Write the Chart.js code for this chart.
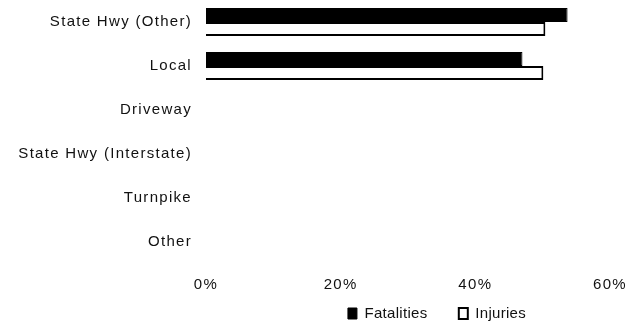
<!DOCTYPE html>
<html>
<head>
<meta charset="utf-8">
<script src="https://cdn.jsdelivr.net/npm/chart.js@4/dist/chart.umd.min.js"></script>
<style>
html,body{margin:0;padding:0;background:#fff;}
#wrap{position:relative;width:631px;height:326px;}
</style>
</head>
<body>
<div id="wrap"><canvas id="c"></canvas></div>
<script>
const categories = ["State Hwy (Other)", "Local", "Driveway", "State Hwy (Interstate)", "Turnpike", "Other"];
const fatalities = [53.7, 47.0, 0, 0, 0, 0];
const injuries = [50.4, 50.1, 0, 0, 0, 0];
const xTicks = [0, 20, 40, 60];

const FONT = "'Liberation Sans', Arial, sans-serif";
const AXIS_SPACING = '1.3px';
const LEGEND_SPACING = '0.3px';

const spacingPlugin = {
  id: 'spacing',
  afterInit(chart) {
    const lg = chart.legend;
    const origFit = lg.fit.bind(lg);
    lg.fit = function () {
      const ctx = chart.ctx; const prev = ctx.letterSpacing;
      ctx.letterSpacing = LEGEND_SPACING; origFit(); ctx.letterSpacing = prev;
    };
    lg._layers = function () {
      return [{ z: 0, draw(area) {
        const ctx = chart.ctx; const prev = ctx.letterSpacing;
        ctx.letterSpacing = LEGEND_SPACING; lg.draw(area); ctx.letterSpacing = prev;
      } }];
    };
  },
  beforeLayout(chart) { chart.ctx.letterSpacing = AXIS_SPACING; },
  beforeDraw(chart) { chart.ctx.letterSpacing = AXIS_SPACING; },
  afterLayout(chart) {
    const lg = chart.legend;
    lg.left = 437 - 170; lg.right = 437 + 170; lg.width = lg.right - lg.left;
    lg.top += 5; lg.bottom += 5;
    chart.ctx.letterSpacing = AXIS_SPACING;
  }
};

new Chart(document.getElementById('c'), {
  type: 'bar',
  data: {
    labels: categories,
    datasets: [
      { label: 'Fatalities', data: fatalities, backgroundColor: '#000', borderColor: '#000', borderWidth: 1 },
      { label: 'Injuries', data: injuries, backgroundColor: '#fff', borderColor: '#000', borderWidth: 2 }
    ]
  },
  options: {
    indexAxis: 'y',
    responsive: true,
    maintainAspectRatio: false,
    animation: false,
    devicePixelRatio: 1,
    layout: { padding: { left: 0, right: 0, top: 0, bottom: 0 } },
    datasets: { bar: { categoryPercentage: 0.64, barPercentage: 1 } },
    scales: {
      x: {
        min: 0, max: 60,
        grid: { display: false, drawTicks: false },
        border: { display: false },
        afterBuildTicks(scale) { scale.ticks = xTicks.map(v => ({ value: v })); },
        afterFit(scale) { scale.height = 28; scale.paddingRight = 21; scale.paddingLeft = 0; },
        ticks: {
          padding: 12,
          color: '#111',
          font: { family: FONT, size: 15 },
          callback: v => v + '%'
        }
      },
      y: {
        grid: { display: false, drawTicks: false },
        border: { display: false },
        afterFit(scale) { scale.width = 206; scale.paddingTop = 0; scale.paddingBottom = 0; },
        ticks: {
          padding: 14,
          color: '#111',
          font: { family: FONT, size: 15 }
        }
      }
    },
    plugins: {
      legend: {
        position: 'bottom',
        labels: {
          boxWidth: 9,
          boxHeight: 11,
          padding: 9,
          color: '#111',
          font: { family: FONT, size: 15 },
          generateLabels(chart) {
            const items = Chart.defaults.plugins.legend.labels.generateLabels(chart);
            items.forEach((it, i) => { if (i === 0) it.text = it.text + '     '; });
            return items;
          }
        }
      },
      tooltip: { enabled: false }
    }
  },
  plugins: [spacingPlugin]
});
</script>
</body>
</html>
